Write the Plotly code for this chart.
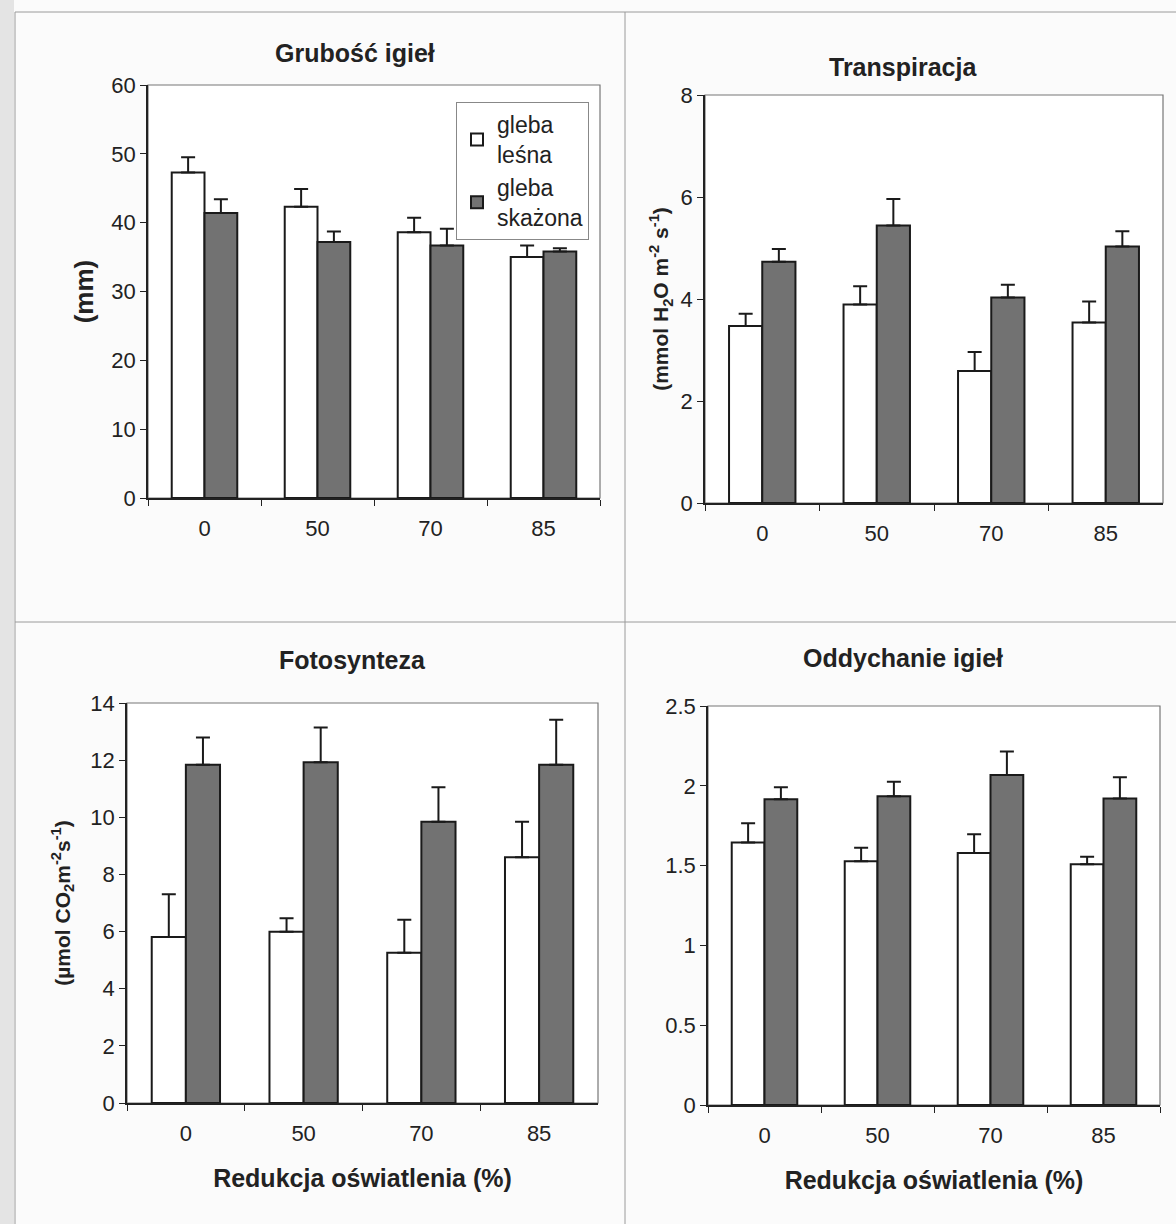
import plotly.graph_objects as go

categories = ["0", "50", "70", "85"]
series_names = ["gleba<br>leśna", "gleba<br>skażona"]

# Panel 1: Grubość igieł (mm)
grub_lesna = [47.3, 42.3, 38.6, 35.0]
grub_lesna_err = [2.2, 2.6, 2.1, 1.7]
grub_skaz = [41.4, 37.2, 36.7, 35.8]
grub_skaz_err = [2.0, 1.5, 2.4, 0.5]

# Panel 2: Transpiracja
trans_lesna = [3.47, 3.89, 2.59, 3.54]
trans_lesna_err = [0.24, 0.36, 0.37, 0.41]
trans_skaz = [4.73, 5.44, 4.03, 5.03]
trans_skaz_err = [0.25, 0.52, 0.25, 0.30]

# Panel 3: Fotosynteza
foto_lesna = [5.81, 5.99, 5.26, 8.60]
foto_lesna_err = [1.50, 0.48, 1.15, 1.24]
foto_skaz = [11.84, 11.93, 9.84, 11.84]
foto_skaz_err = [0.95, 1.21, 1.21, 1.57]

# Panel 4: Oddychanie igieł
odd_lesna = [1.645, 1.528, 1.579, 1.509]
odd_lesna_err = [0.12, 0.084, 0.117, 0.047]
odd_skaz = [1.916, 1.935, 2.068, 1.921]
odd_skaz_err = [0.075, 0.091, 0.147, 0.133]

titles = ["Grubość igieł", "Transpiracja", "Fotosynteza", "Oddychanie igieł"]
y_titles = ["(mm)", "(mmol H<sub>2</sub>O m<sup>-2</sup> s<sup>-1</sup>)",
            "(µmol CO<sub>2</sub>m<sup>-2</sup>s<sup>-1</sup>)", ""]
x_title = "Redukcja oświatlenia (%)"
y_ranges = [[0, 60], [0, 8], [0, 14], [0, 2.5]]
y_dticks = [10, 2, 2, 0.5]

W, H = 1176, 1224
# plot-area boxes in pixels: left, right, top, bottom
boxes = [(148, 600, 85, 498), (705, 1163, 95, 503), (127, 598, 703, 1103), (708, 1160, 706, 1105)]

FONT = "Liberation Sans, Arial, sans-serif"
WHITE_FILL = "#ffffff"
DARK_FILL = "#727272"
EDGE = "#1a1a1a"
TXT = "#222222"

data = [
    (grub_lesna, grub_lesna_err, grub_skaz, grub_skaz_err),
    (trans_lesna, trans_lesna_err, trans_skaz, trans_skaz_err),
    (foto_lesna, foto_lesna_err, foto_skaz, foto_skaz_err),
    (odd_lesna, odd_lesna_err, odd_skaz, odd_skaz_err),
]

fig = go.Figure()
layout = dict(
    width=W, height=H,
    margin=dict(l=0, r=0, t=0, b=0, pad=0),
    autosize=False,
    paper_bgcolor="#fbfbfb",
    plot_bgcolor="#ffffff",
    barmode="group",
    bargap=0.42,
    bargroupgap=0.0,
    font=dict(family=FONT, color=TXT, size=18),
    showlegend=True,
    legend=dict(
        x=456 / W, y=1 - 102 / H, xanchor="left", yanchor="top",
        bgcolor="#ffffff", bordercolor="#888888", borderwidth=1,
        font=dict(size=23, family=FONT, color=TXT),
        itemsizing="constant", tracegroupgap=0, itemwidth=30,
    ),
)

annotations = []
shapes = []
for i, (l, r, t, b) in enumerate(boxes):
    k = "" if i == 0 else str(i + 1)
    xa, ya = "x" + k, "y" + k
    lv, le, sv, se = data[i]
    zeros = [0, 0, 0, 0]
    fig.add_trace(go.Bar(
        x=categories, y=lv, name=series_names[0], xaxis=xa, yaxis=ya,
        marker=dict(color=WHITE_FILL, line=dict(color=EDGE, width=2)),
        error_y=dict(type="data", symmetric=False, array=le, arrayminus=zeros,
                     color=EDGE, thickness=2, width=7),
        showlegend=(i == 0), legendgroup="a",
    ))
    fig.add_trace(go.Bar(
        x=categories, y=sv, name=series_names[1], xaxis=xa, yaxis=ya,
        marker=dict(color=DARK_FILL, line=dict(color=EDGE, width=2)),
        error_y=dict(type="data", symmetric=False, array=se, arrayminus=zeros,
                     color=EDGE, thickness=2, width=7),
        showlegend=(i == 0), legendgroup="b",
    ))
    xname = "xaxis" + k
    yname = "yaxis" + k
    layout[xname] = dict(
        domain=[l / W, r / W], anchor=ya, type="category", automargin=False,
        showline=True, linecolor=TXT, linewidth=1.5,
        ticks="outside", tickson="boundaries", ticklen=6, tickcolor=TXT,
        ticklabelstandoff=10,
        tickfont=dict(size=22, family=FONT, color=TXT),
        showgrid=False, zeroline=False, fixedrange=True,
    )
    layout[yname] = dict(
        domain=[1 - b / H, 1 - t / H], anchor=xa, automargin=False,
        range=y_ranges[i], dtick=y_dticks[i], tick0=0,
        showline=True, linecolor=TXT, linewidth=1.5,
        ticks="outside", ticklen=6, tickcolor=TXT,
        tickfont=dict(size=22, family=FONT, color=TXT),
        showgrid=False, zeroline=False, fixedrange=True,
    )
    if y_titles[i]:
        layout[yname]["title"] = dict(
            text="<b>" + y_titles[i] + "</b>",
            font=dict(size=26 if i == 0 else 21, family=FONT, color=TXT),
            standoff=[10, 6, 14, 0][i],
        )
    if i >= 2:
        layout[xname]["title"] = dict(
            text="<b>" + x_title + "</b>",
            font=dict(size=25, family=FONT, color=TXT),
            standoff=24,
        )
    # frame (top & right) in grey
    shapes.append(dict(type="rect", xref=xa + " domain", yref=ya + " domain",
                       x0=0, x1=1, y0=0, y1=1, line=dict(color="#777777", width=1.2),
                       layer="below"))
    # panel title
    ty = [53, 67, 660, 658][i]
    annotations.append(dict(
        text="<b>" + titles[i] + "</b>", xref="paper", yref="paper",
        x=[355, 903, 353, 903][i] / W, y=1 - ty / H, xanchor="center", yanchor="middle",
        showarrow=False, font=dict(size=25, family=FONT, color=TXT),
    ))

# page dividers of the scanned sheet
shapes.append(dict(type="line", xref="paper", yref="paper", x0=625 / W, x1=625 / W,
                   y0=0, y1=1 - 12 / H, line=dict(color="#9a9a9a", width=1), layer="below"))
shapes.append(dict(type="line", xref="paper", yref="paper", x0=15 / W, x1=1,
                   y0=1 - 622 / H, y1=1 - 622 / H, line=dict(color="#9a9a9a", width=1), layer="below"))
shapes.append(dict(type="line", xref="paper", yref="paper", x0=15 / W, x1=15 / W,
                   y0=0, y1=1 - 12 / H, line=dict(color="#9a9a9a", width=1), layer="below"))
shapes.append(dict(type="line", xref="paper", yref="paper", x0=15 / W, x1=1,
                   y0=1 - 12 / H, y1=1 - 12 / H, line=dict(color="#9a9a9a", width=1), layer="below"))
shapes.append(dict(type="rect", xref="paper", yref="paper", x0=0, x1=14 / W,
                   y0=0, y1=1, fillcolor="#e4e4e4", line=dict(width=0), layer="below"))

layout["annotations"] = annotations
layout["shapes"] = shapes
fig.update_layout(**layout)
fig.write_html("out.html")
